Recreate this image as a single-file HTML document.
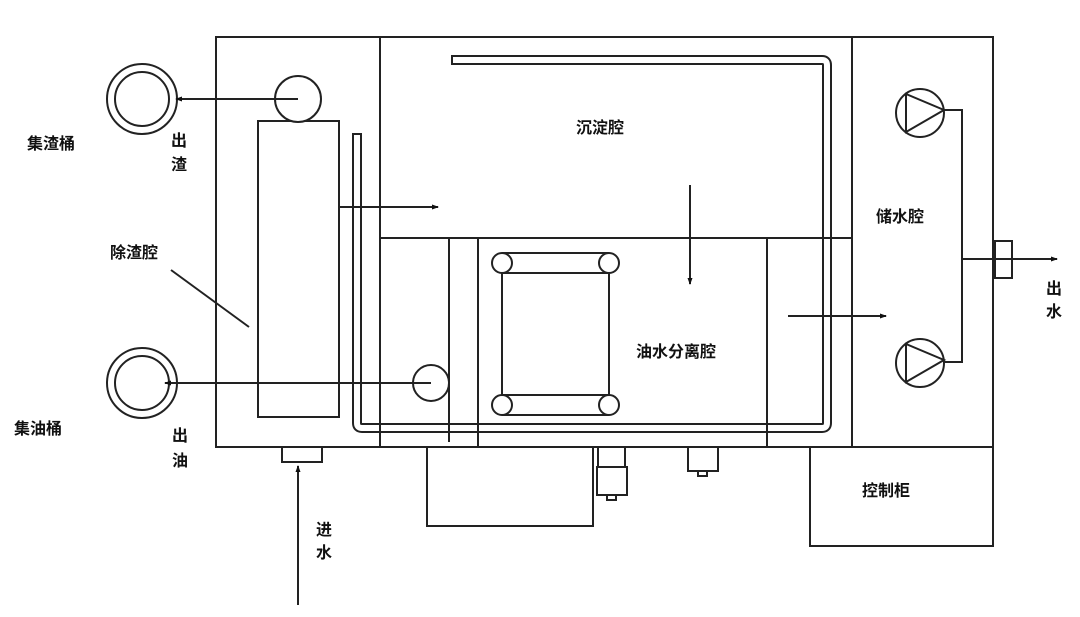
<!DOCTYPE html>
<html><head><meta charset="utf-8"><style>
html,body{margin:0;padding:0;background:#fff;}
svg{display:block}
text{font-family:"Liberation Sans","Noto Sans CJK SC",sans-serif;font-size:16px;font-weight:bold;fill:#111}
</style></head><body>
<svg width="1080" height="617" viewBox="0 0 1080 617" xmlns="http://www.w3.org/2000/svg">
<defs><marker id="a" markerWidth="8" markerHeight="8" refX="6" refY="4" orient="auto" markerUnits="userSpaceOnUse"><path d="M0,1.5 L7,4 L0,6.5z" fill="#111"/></marker></defs>
<path d="M452,60 L822,60 Q827,60 827,65 L827,423 Q827,428 822,428 L362,428 Q357,428 357,423 L357,134" fill="none" stroke="#222" stroke-width="10"/>
<path d="M452,60 L822,60 Q827,60 827,65 L827,423 Q827,428 822,428 L362,428 Q357,428 357,423 L357,134" fill="none" stroke="#fff" stroke-width="6"/>
<g fill="none" stroke="#222" stroke-width="2">
<line x1="452" y1="55" x2="452" y2="65"/>
<line x1="352" y1="134" x2="362" y2="134"/>
<rect x="216" y="37" width="777" height="410"/>
<line x1="380" y1="37" x2="380" y2="447"/>
<line x1="852" y1="37" x2="852" y2="447"/>
<line x1="380" y1="238" x2="852" y2="238"/>
<line x1="449" y1="238" x2="449" y2="442"/>
<line x1="478" y1="238" x2="478" y2="447"/>
<line x1="767" y1="238" x2="767" y2="447"/>
<rect x="258" y="121" width="81" height="296"/>
<circle cx="298" cy="99" r="23" fill="#fff"/>
<circle cx="142" cy="99" r="35"/><circle cx="142" cy="99" r="27"/>
<circle cx="142" cy="383" r="35"/><circle cx="142" cy="383" r="27"/>
<circle cx="431" cy="383" r="18"/>
<line x1="298" y1="99" x2="176" y2="99" marker-end="url(#a)"/>
<line x1="431" y1="383" x2="165" y2="383" marker-end="url(#a)"/>
<line x1="339" y1="207" x2="438" y2="207" marker-end="url(#a)"/>
<line x1="690" y1="185" x2="690" y2="284" marker-end="url(#a)"/>
<line x1="788" y1="316" x2="886" y2="316" marker-end="url(#a)"/>
<line x1="171" y1="270" x2="249" y2="327"/>
<line x1="502" y1="253" x2="609" y2="253"/><line x1="502" y1="273" x2="609" y2="273"/>
<line x1="502" y1="395" x2="609" y2="395"/><line x1="502" y1="415" x2="609" y2="415"/>
<line x1="502" y1="263" x2="502" y2="405"/><line x1="609" y1="263" x2="609" y2="405"/>
<circle cx="502" cy="263" r="10" fill="#fff"/><circle cx="609" cy="263" r="10" fill="#fff"/>
<circle cx="502" cy="405" r="10" fill="#fff"/><circle cx="609" cy="405" r="10" fill="#fff"/>
<circle cx="920" cy="113" r="24"/><path d="M906,94 L906,132 L944,110 Z"/>
<circle cx="920" cy="363" r="24"/><path d="M906,344 L906,382 L944,360 Z"/>
<polyline points="944,110 962,110 962,362 944,362"/>
<rect x="995" y="241" width="17" height="37"/>
<line x1="962" y1="259" x2="1057" y2="259" marker-end="url(#a)"/>
<rect x="427" y="447" width="166" height="79"/>
<rect x="598" y="447" width="27" height="20"/><rect x="597" y="467" width="30" height="28"/><rect x="607" y="495" width="9" height="5"/>
<rect x="688" y="447" width="30" height="24"/><rect x="698" y="471" width="9" height="5"/>
<rect x="810" y="447" width="183" height="99"/>
<rect x="282" y="447" width="40" height="15"/>
<line x1="298" y1="605" x2="298" y2="466" marker-end="url(#a)"/>
</g>
<text x="576" y="133">沉淀腔</text>
<text x="876" y="222">储水腔</text>
<text x="636" y="357">油水分离腔</text>
<text x="862" y="496">控制柜</text>
<text x="110" y="258">除渣腔</text>
<text x="27" y="149">集渣桶</text>
<text x="14" y="434">集油桶</text>
<text x="171" y="146">出</text><text x="171" y="170">渣</text>
<text x="172" y="441">出</text><text x="172" y="466">油</text>
<text x="316" y="535">进</text><text x="316" y="558">水</text>
<text x="1046" y="294">出</text><text x="1046" y="317">水</text>
</svg>
</body></html>
